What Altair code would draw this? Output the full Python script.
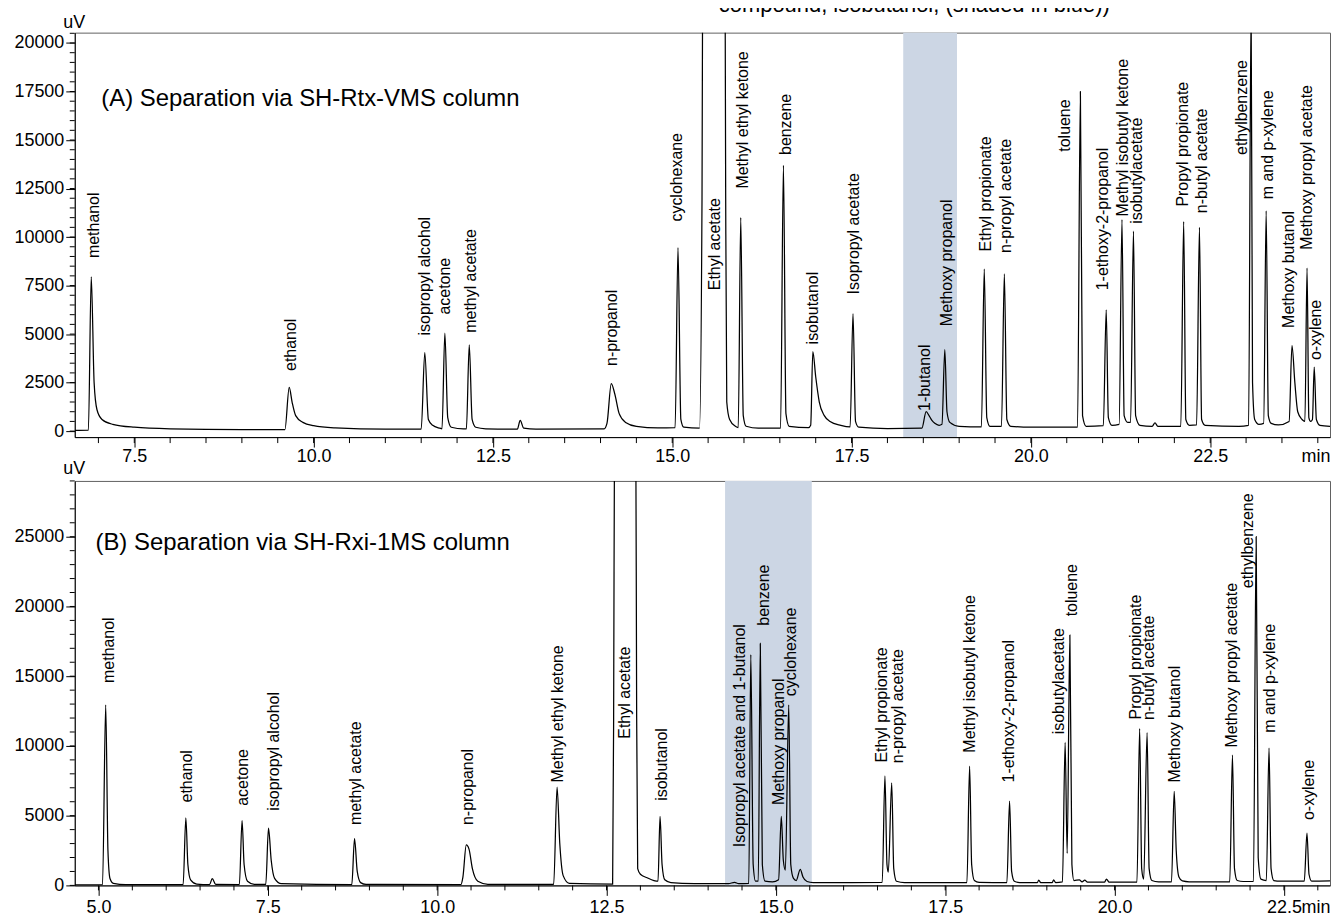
import altair as alt
import numpy as np
import pandas as pd

FONT = "Liberation Sans"

# ---------------- panel A (SH-Rtx-VMS) ----------------
TOP_TIME = [
    6.67, 6.86, 6.90, 6.94, 6.98, 7.05, 7.20, 7.50, 8.00, 9.00, 9.60,
    9.66, 9.70, 9.75, 9.85, 10.00, 10.30, 11.00, 11.50,
    11.55, 11.60, 11.66, 11.76, 11.79, 11.83, 11.87, 11.92, 12.09, 12.13,
    12.17, 12.21, 12.26, 12.40, 12.84, 12.88, 12.93, 13.10, 14.05, 14.09,
    14.15, 14.20, 14.26, 14.35, 14.50, 14.80, 15.04,
    15.08, 15.12, 15.16, 15.38, 15.415, 15.43, 15.58, 15.73, 15.745, 15.76, 15.80, 15.88, 15.92,
    15.955, 15.99, 16.03, 16.20, 16.51,
    16.55, 16.585, 16.63, 16.90, 16.93,
    16.96, 17.00, 17.05, 17.12, 17.20, 17.35, 17.48,
    17.52, 17.555, 17.60, 18.00, 18.48,
    18.54, 18.58, 18.62, 18.66, 18.72, 18.76,
    18.80, 18.83, 18.87, 19.00, 19.31,
    19.35, 19.385, 19.43, 19.59,
    19.63, 19.665, 19.72, 20.00, 20.65,
    20.69, 20.72, 20.77, 21.01,
    21.05, 21.08, 21.13, 21.23,
    21.27, 21.30, 21.35, 21.39,
    21.43, 21.46, 21.52, 21.69, 21.73, 21.77, 22.09,
    22.13, 22.16, 22.21, 22.31,
    22.35, 22.38, 22.43, 22.90, 23.035,
    23.07, 23.09, 23.12, 23.18, 23.245,
    23.28, 23.31, 23.35, 23.45, 23.60,
    23.64, 23.68, 23.72, 23.78, 23.82,
    23.85, 23.875, 23.90, 23.925,
    23.95, 23.98, 24.03, 24.17,
]
TOP_SIGNAL = [
    40, 50, 7950, 2500, 1100, 600, 350, 200, 120, 80, 80,
    2250, 1500, 800, 450, 280, 170, 100, 100,
    4050, 600, 300, 150, 120, 5050, 700, 200, 110, 120,
    4450, 600, 200, 120, 100, 550, 150, 100, 120, 400,
    2450, 1900, 900, 450, 250, 170, 180,
    9450, 600, 200, 150, 12000, 30000, 42000, 30000, 12000, 1500, 600, 250, 180,
    11000, 800, 250, 150, 150,
    13700, 900, 250, 180, 300,
    4100, 2800, 1500, 800, 500, 300, 220,
    6050, 500, 200, 130, 150,
    1000, 800, 550, 400, 300, 350,
    4200, 1000, 450, 250, 220,
    8350, 700, 250, 250,
    8100, 600, 250, 200, 200,
    17500, 800, 250, 280,
    6250, 700, 300, 350,
    10900, 800, 450, 450,
    10300, 800, 300, 250, 420, 250, 250,
    10800, 600, 300, 320,
    10500, 600, 300, 250, 300,
    22000, 2500, 600, 350, 400,
    11350, 800, 400, 320, 500,
    4400, 2500, 1000, 600, 500,
    8400, 700, 500, 600,
    3300, 600, 300, 250,
]
TOP_NAMES = [
    "methanol", "ethanol", "isopropyl alcohol", "acetone", "methyl acetate",
    "n-propanol", "cyclohexane", "Ethyl acetate", "Methyl ethyl ketone", "benzene",
    "isobutanol", "Isopropyl acetate", "1-butanol", "Methoxy propanol",
    "Ethyl propionate", "n-propyl acetate", "toluene", "1-ethoxy-2-propanol",
    "Methyl isobutyl ketone", "isobutylacetate", "Propyl propionate",
    "n-butyl acetate", "ethylbenzene", "m and p-xylene", "Methoxy butanol",
    "Methoxy propyl acetate", "o-xylene",
]
TOP_NAME_T = [6.944, 9.687, 11.56, 11.83, 12.19, 14.16, 15.07, 15.59, 15.99, 16.58,
              16.96, 17.53, 18.53, 18.83, 19.37, 19.65, 20.48, 21.00, 21.28, 21.48,
              22.12, 22.38, 22.95, 23.31, 23.60, 23.85, 23.97]
TOP_NAME_V = [8920, 3100, 4930, 6010, 5070, 3360, 10800, 7260, 12500, 14230,
              4470, 7040, 1040, 5410, 9260, 9180, 14400, 7260, 11060, 10680,
              11570, 11230, 14230, 11950, 5320, 9350, 3660]
TOP_SHADE = [18.22, 18.97]
TOP_X_DOMAIN = [6.67, 24.17]
TOP_Y_DOMAIN = [-308, 20534]
TOP_X_MAJOR = [7.5, 10.0, 12.5, 15.0, 17.5, 20.0, 22.5]
TOP_Y_MAJOR = [0, 2500, 5000, 7500, 10000, 12500, 15000, 17500, 20000]
TOP_NOTE = "(A) Separation via SH-Rtx-VMS column"
TOP_NOTE_POS = [7.04, 17094]
CAPTION = "compound, isobutanol, (shaded in blue))"
CAPTION_T = 15.65

# ---------------- panel B (SH-Rxi-1MS) ----------------
BOT_TIME = [
    4.65, 5.06, 5.107, 5.14, 5.17, 5.22, 5.40, 6.25,
    6.29, 6.32, 6.36, 6.45, 6.64, 6.68, 6.73, 7.08,
    7.12, 7.15, 7.20, 7.30, 7.47,
    7.51, 7.55, 7.60, 7.70, 8.74,
    8.78, 8.82, 8.87, 8.95, 10.35,
    10.38, 10.43, 10.47, 10.52, 10.60, 10.75, 11.72,
    11.77, 11.81, 11.86, 11.95, 12.59,
    12.605, 12.62, 12.78, 12.93, 12.945, 12.96, 13.00, 13.10, 13.20, 13.26,
    13.29, 13.32, 13.36, 13.45, 13.80, 14.30, 14.39, 14.45, 14.60,
    14.63, 14.665, 14.70, 14.74,
    14.77, 14.80, 14.84, 14.95, 15.04,
    15.08, 15.11, 15.14, 15.19, 15.22, 15.26, 15.30, 15.36, 15.40, 15.46, 15.55, 16.57,
    16.61, 16.64, 16.66, 16.71, 16.74, 16.78, 16.90, 17.82,
    17.86, 17.89, 17.93, 18.00, 18.41,
    18.45, 18.48, 18.52, 18.60, 18.86, 18.88, 18.91, 19.08, 19.10, 19.13, 19.23,
    19.27, 19.30, 19.34, 19.37, 19.40, 19.48, 19.52, 19.56, 19.60, 19.85, 19.88, 19.92, 20.33,
    20.37, 20.40, 20.43, 20.48, 20.51, 20.55, 20.65, 20.84,
    20.88, 20.91, 20.95, 21.00, 21.10, 21.70,
    21.74, 21.77, 21.81, 21.90, 22.05,
    22.09, 22.12, 22.16, 22.24,
    22.28, 22.31, 22.35, 22.45, 22.80,
    22.84, 22.87, 22.91, 23.18,
]
BOT_SIGNAL = [
    40, 40, 12950, 2500, 500, 150, 60, 60,
    4850, 1500, 400, 100, 60, 480, 70, 60,
    4650, 1500, 300, 80, 70,
    4100, 1800, 500, 120, 60,
    3350, 1000, 200, 70, 60,
    600, 2900, 2600, 1200, 300, 80, 70,
    7050, 3000, 700, 150, 100,
    12000, 35000, 48000, 35000, 12000, 1200, 800, 550, 350, 300,
    4950, 1500, 400, 200, 130, 120, 220, 130, 150,
    16550, 1500, 300, 300,
    17350, 1500, 300, 250, 400,
    4950, 1800, 1100, 12950, 1500, 500, 350, 1150, 600, 280, 200, 220,
    7850, 1500, 950, 7350, 1200, 300, 200, 200,
    8550, 1500, 350, 220, 200,
    6050, 1000, 300, 200, 200, 380, 200, 200, 400, 200, 250,
    10250, 2300, 17950, 1500, 350, 400, 250, 380, 230, 230, 450, 230, 230,
    11250, 1200, 450, 10950, 1200, 350, 260, 250,
    6750, 2500, 600, 320, 260, 260,
    9350, 1200, 350, 280, 280,
    25000, 2000, 450, 350,
    9850, 1200, 350, 300, 300,
    3750, 800, 300, 320,
]
BOT_NAMES = [
    "methanol", "ethanol", "acetone", "isopropyl alcohol", "methyl acetate",
    "n-propanol", "Methyl ethyl ketone", "Ethyl acetate", "isobutanol",
    "Isopropyl acetate and 1-butanol", "benzene", "Methoxy propanol", "cyclohexane",
    "Ethyl propionate", "n-propyl acetate", "Methyl isobutyl ketone",
    "1-ethoxy-2-propanol", "isobutylacetate", "toluene", "Propyl propionate",
    "n-butyl acetate", "Methoxy butanol", "Methoxy propyl acetate", "ethylbenzene",
    "m and p-xylene", "o-xylene",
]
BOT_NAME_T = [5.157, 6.31, 7.13, 7.59, 8.80, 10.45, 11.78, 12.78, 13.32,
              14.47, 14.83, 15.05, 15.23, 16.57, 16.81, 17.86, 18.44, 19.18,
              19.37, 20.32, 20.51, 20.89, 21.74, 21.97, 22.29, 22.87]
BOT_NAME_V = [14520, 5950, 5710, 5360, 4330, 4330, 7380, 10520, 6070,
              2740, 18620, 5760, 13570, 8810, 8760, 9520, 7380, 10830,
              19290, 11900, 11860, 7380, 9880, 21310, 10950, 4690]
BOT_SHADE = [14.25, 15.53]
BOT_X_DOMAIN = [4.65, 23.18]
BOT_Y_DOMAIN = [0, 29000]
BOT_X_MAJOR = [5.0, 7.5, 10.0, 12.5, 15.0, 17.5, 20.0, 22.5]
BOT_Y_MAJOR = [0, 5000, 10000, 15000, 20000, 25000]
BOT_NOTE = "(B) Separation via SH-Rxi-1MS column"
BOT_NOTE_POS = [4.956, 24571]

W, H = 1260, 406


def panel(times, signal, names, name_t, name_v, shade, xdom, ydom,
          xmajor, ymajor, xminor, yminor, note, note_pos,
          x_label_pad, x_title_y, y_title_y, x_minor_len, caption=None):
    xs = alt.Scale(domain=xdom, nice=False, zero=False)
    ys = alt.Scale(domain=ydom, nice=False, zero=False)

    shade_layer = alt.Chart(pd.DataFrame({"a": [shade[0]], "b": [shade[1]]})).mark_rect(
        color="#ccd6e4"
    ).encode(
        x=alt.X("a:Q", scale=xs, axis=None),
        x2="b:Q",
        y=alt.value(0),
        y2=alt.value("height"),
    )

    line_layer = alt.Chart(pd.DataFrame({"t": times, "v": signal})).mark_line(
        color="black", strokeWidth=1.25, clip=True, interpolate="monotone"
    ).encode(
        x=alt.X("t:Q", scale=xs, axis=alt.Axis(
            values=xmajor, format=".1f", tickSize=10, labelPadding=x_label_pad,
            orient="bottom", zindex=1,
            title="min", titleX=1231, titleY=x_title_y, titleAlign="left",
            titleBaseline="top", titleAngle=0)),
        y=alt.Y("v:Q", scale=ys, axis=alt.Axis(
            values=ymajor, format="d", tickSize=9, labelPadding=2,
            orient="left", zindex=1,
            title="uV", titleX=-1, titleY=y_title_y, titleAlign="center",
            titleBaseline="middle", titleAngle=0)),
    )

    # minor tick marks (outside the plot, along both axes)
    minor_x = alt.Chart(pd.DataFrame({"t": xminor})).mark_rule(
        color="black", strokeWidth=1
    ).encode(
        x=alt.X("t:Q", scale=xs, axis=None),
        y=alt.value(H),
        y2=alt.value(H + x_minor_len),
    )
    minor_y = alt.Chart(pd.DataFrame({"v": yminor})).mark_rule(
        color="black", strokeWidth=1
    ).encode(
        y=alt.Y("v:Q", scale=ys, axis=None),
        x=alt.value(0),
        x2=alt.value(-5),
    )

    label_layer = alt.Chart(pd.DataFrame({"n": names, "t": name_t, "v": name_v})).mark_text(
        angle=270, align="left", baseline="middle", fontSize=16, font=FONT, color="black"
    ).encode(
        x=alt.X("t:Q", scale=xs, axis=None),
        y=alt.Y("v:Q", scale=ys, axis=None),
        text="n:N",
    )

    note_layer = alt.Chart(pd.DataFrame({"s": [note], "t": [note_pos[0]], "v": [note_pos[1]]})).mark_text(
        align="left", baseline="middle", fontSize=24, font=FONT, color="black"
    ).encode(
        x=alt.X("t:Q", scale=xs, axis=None),
        y=alt.Y("v:Q", scale=ys, axis=None),
        text="s:N",
    )

    layers = [shade_layer, line_layer, minor_x, minor_y, label_layer, note_layer]
    if caption is not None:
        cap_layer = alt.Chart(pd.DataFrame({"s": [caption[0]], "t": [caption[1]]})).mark_text(
            align="left", baseline="alphabetic", fontSize=22, font=FONT, color="black"
        ).encode(
            x=alt.X("t:Q", scale=xs, axis=None),
            y=alt.value(-21),
            text="s:N",
        )
        layers.append(cap_layer)

    return alt.layer(*layers).resolve_axis(x="independent", y="independent").properties(
        width=W, height=H)


top = panel(TOP_TIME, TOP_SIGNAL, TOP_NAMES, TOP_NAME_T, TOP_NAME_V, TOP_SHADE,
            TOP_X_DOMAIN, TOP_Y_DOMAIN, TOP_X_MAJOR, TOP_Y_MAJOR,
            np.arange(7.0, 24.01, 0.5).round(1).tolist(),
            np.arange(0, 20501, 500).tolist(),
            TOP_NOTE, TOP_NOTE_POS, 0, 10, -10, 6, caption=(CAPTION, CAPTION_T))

bottom = panel(BOT_TIME, BOT_SIGNAL, BOT_NAMES, BOT_NAME_T, BOT_NAME_V, BOT_SHADE,
               BOT_X_DOMAIN, BOT_Y_DOMAIN, BOT_X_MAJOR, BOT_Y_MAJOR,
               np.arange(5.0, 23.01, 0.5).round(1).tolist(),
               np.arange(0, 29001, 1000).tolist(),
               BOT_NOTE, BOT_NOTE_POS, 3, 13, -12, 5)

chart = alt.vconcat(top, bottom, spacing=44, bounds="flush").properties(
    padding={"left": 5, "top": -17, "right": 0, "bottom": 0}
).configure(font=FONT).configure_view(
    stroke="#606060", strokeWidth=1
).configure_axis(
    grid=False, domainColor="black", domainWidth=1, tickColor="black", tickWidth=1,
    labelColor="black", labelFont=FONT, labelFontSize=18, titleFont=FONT,
    titleFontSize=18, titleFontWeight="normal", titleColor="black",
    labelFlush=False, labelOverlap=False,
)

chart.save("out.html", embed_options={"renderer": "svg", "actions": False})
